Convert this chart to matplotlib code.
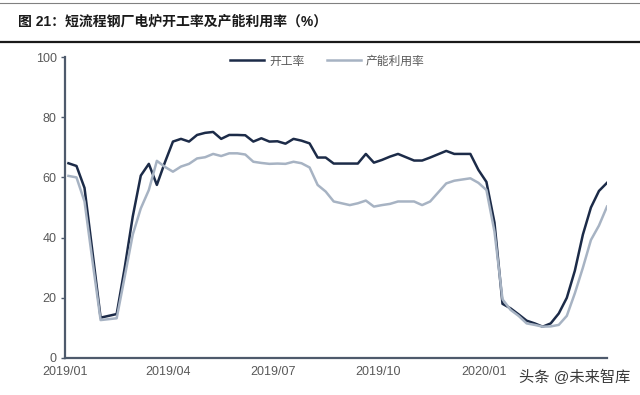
import numpy as np
import pandas as pd
import matplotlib
matplotlib.use("Agg")
import matplotlib.pyplot as plt
import matplotlib.dates as mdates
from matplotlib.lines import Line2D

plt.rcParams['font.family'] = ['Liberation Sans', 'Noto Sans CJK SC', 'DejaVu Sans']

# 周度数据, 2019-01-04 起
dates = pd.date_range('2019-01-04', periods=68, freq='7D')

# 开工率
kaigong = [64.7, 63.8, 56.5, 35.0, 13.4, 14.0, 14.6, 30.0, 47.0, 60.6,
           64.5, 57.5, 65.0, 71.9, 72.8, 71.9, 74.1, 74.8, 75.1, 72.8,
           74.1, 74.1, 74.0, 71.9, 73.0, 71.9, 72.0, 71.2, 72.8, 72.2,
           71.3, 66.6, 66.6, 64.6, 64.6, 64.6, 64.6, 67.8, 64.9, 65.8,
           66.9, 67.8, 66.7, 65.6, 65.6, 66.6, 67.7, 68.8, 67.8, 67.8,
           67.8, 62.5, 58.5, 45.0, 18.0, 16.5, 14.5, 12.4, 11.5, 10.4,
           11.5, 14.8, 20.0, 29.0, 41.0, 50.0, 55.5, 58.2]

# 产能利用率
liyong = [60.5, 60.0, 52.0, 32.0, 12.6, 12.9, 13.2, 27.0, 41.0, 49.7,
          55.8, 65.5, 63.5, 61.9, 63.6, 64.5, 66.3, 66.7, 67.8, 67.1,
          68.0, 68.0, 67.6, 65.2, 64.8, 64.5, 64.6, 64.5, 65.2, 64.7,
          63.3, 57.5, 55.3, 52.0, 51.4, 50.8, 51.4, 52.3, 50.3, 50.8,
          51.2, 52.0, 52.0, 52.0, 50.8, 52.0, 55.0, 58.0, 58.9, 59.3,
          59.7, 58.2, 55.8, 42.0, 19.5, 16.0, 14.0, 11.5, 11.0, 10.4,
          10.5, 11.0, 14.0, 21.5, 30.0, 39.2, 44.0, 50.3]

tick_dates = ['2019-01-01', '2019-04-01', '2019-07-01', '2019-10-01', '2020-01-01']
tick_labels = ['2019/01', '2019/04', '2019/07', '2019/10', '2020/01']

dark = '#1c2b48'
light = '#a7b3c3'
axis_c = '#4e5a6c'
txt_c = '#595959'

fig = plt.figure(figsize=(6.4, 3.95), dpi=100)

# 标题和分隔线
fig.add_artist(Line2D([0, 1], [1 - 3/395, 1 - 3/395], color='#808080', lw=0.8))
fig.add_artist(Line2D([0, 1], [1 - 42/395, 1 - 42/395], color='#1a1a1a', lw=1.6))
fig.text(18/640, 1 - 22/395, '图 21：短流程钢厂电炉开工率及产能利用率（%）',
         fontsize=10, fontweight='bold', color='#1a1a1a', va='center', ha='left')

ax = fig.add_axes([65/640, 1 - 358/395, (607 - 65)/640, (358 - 57)/395])
ax.plot(dates, kaigong, color=dark, lw=1.8, label='开工率')
ax.plot(dates, liyong, color=light, lw=1.8, label='产能利用率')

ax.set_ylim(0, 100)
ax.set_yticks(range(0, 101, 20))
ax.set_xlim(pd.Timestamp('2019-01-01'), dates[-1])
ax.set_xticks(pd.to_datetime(tick_dates))
ax.set_xticklabels(tick_labels)

for s in ['top', 'right']:
    ax.spines[s].set_visible(False)
for s in ['left', 'bottom']:
    ax.spines[s].set_color(axis_c)
    ax.spines[s].set_linewidth(1.6)
ax.tick_params(axis='y', direction='out', length=3, width=1, color=axis_c,
               labelsize=9, labelcolor=txt_c, pad=3)
ax.tick_params(axis='x', length=0, labelsize=9, labelcolor=txt_c, pad=6)

leg = ax.legend(loc='upper center', bbox_to_anchor=(0.484, 1.04), ncol=2,
                frameon=False, fontsize=8.5, handlelength=2.9, columnspacing=1.9,
                handletextpad=0.4)
for t in leg.get_texts():
    t.set_color(txt_c)

fig.text(630/640, 1 - 377/395, '头条 @未来智库', fontsize=11, color='#3a3a3a',
         ha='right', va='center')

fig.savefig('out.png', dpi=100)
